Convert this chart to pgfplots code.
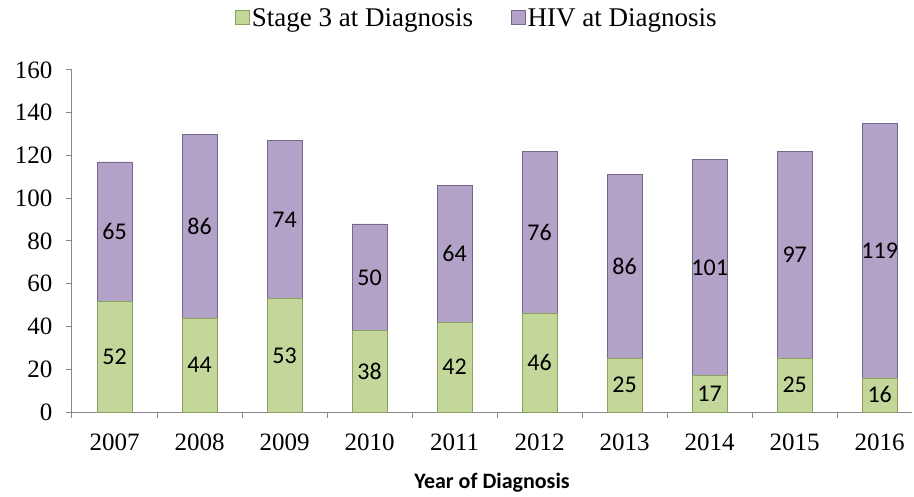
\documentclass[border=0pt]{standalone}
\usepackage{pgfplots}
\pgfplotsset{compat=1.18}
\usepackage{pgfplotstable}
\usepackage{fontspec}
\setmainfont{Liberation Serif}
\newfontfamily\calibri{Carlito}
\definecolor{grn}{RGB}{196,215,155}
\definecolor{grnd}{RGB}{140,160,95}
\definecolor{pur}{RGB}{178,162,199}
\definecolor{purd}{RGB}{120,102,145}
\definecolor{axgray}{RGB}{134,134,134}
\pgfplotstableread{
x year stage hiv
0 2007 52 65
1 2008 44 86
2 2009 53 74
3 2010 38 50
4 2011 42 64
5 2012 46 76
6 2013 25 86
7 2014 17 101
8 2015 25 97
9 2016 16 119
}\data
\begin{document}
\begin{tikzpicture}
\begin{axis}[
  scale only axis, width=840bp, height=342bp,
  ybar stacked, bar width=35bp,
  xmin=-0.5, xmax=9.38, ymin=0, ymax=160,
  ytick={0,20,...,160},
  xtick={-0.5,0.5,...,8.5},
  xticklabels={,,,,,,,,,,},
  extra x ticks={0,1,2,3,4,5,6,7,8,9},
  extra x tick labels={2007,2008,2009,2010,2011,2012,2013,2014,2015,2016},
  extra x tick style={major tick length=0pt},
  axis lines*=left,
  axis line style={axgray, line width=1bp},
  tick style={axgray, line width=1bp},
  tick align=outside,
  major tick length=6bp,
  /pgf/number format/assume math mode=true,
  tick label style={font=\fontsize{25bp}{30bp}\selectfont, text=black},
  yticklabel style={xshift=-10bp},
  xticklabel style={yshift=-18bp},
  xlabel={\calibri\bfseries Year of Diagnosis},
  xlabel style={font=\fontsize{22bp}{26bp}\selectfont, yshift=-10bp},
  nodes near coords,
  point meta=explicit,
  every node near coord/.append style={font=\calibri\fontsize{24bp}{28bp}\selectfont, text=black, anchor=center},
  legend style={at={(0.482,1.152)}, anchor=center, draw=none, legend columns=2,
    font=\fontsize{27bp}{31bp}\selectfont,
    /tikz/every even column/.append style={column sep=36bp},
    nodes={inner xsep=2bp}},
  legend image code/.code={\fill[#1] (0bp,-6bp) rectangle (14bp,8bp);},
  clip=false,
]
\addplot[fill=grn, draw=grnd, line width=0.6bp]
  table[x=x, y=stage, meta=stage]{\data};
\addplot[fill=pur, draw=purd, line width=0.6bp]
  table[x=x, y=hiv, meta=hiv]{\data};
\legend{Stage 3 at Diagnosis, HIV at Diagnosis}
\coordinate (O) at (rel axis cs:0,0);
\end{axis}
\pgfresetboundingbox
\path ([shift={(-72bp,-85bp)}]O) rectangle ([shift={(842bp,412bp)}]O);
\end{tikzpicture}
\end{document}
